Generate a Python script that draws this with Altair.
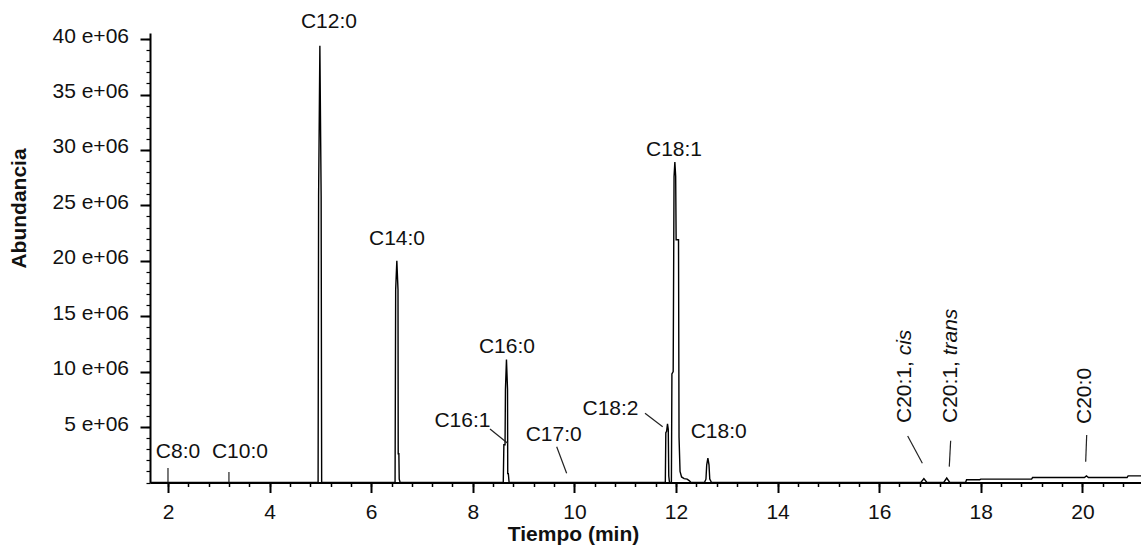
import altair as alt
import pandas as pd

# ---- chromatogram trace (time in min, abundance in millions) ----
trace_time = [
    1.646,
    4.955, 4.965, 4.990, 5.015, 5.025,
    6.470, 6.482, 6.505, 6.528, 6.532, 6.545, 6.552, 6.570,
    8.600, 8.612, 8.635, 8.643, 8.663, 8.684, 8.688, 8.700, 8.715,
    11.790, 11.800, 11.815, 11.833, 11.848, 11.858, 11.872,
    11.910, 11.920, 11.945, 11.962, 11.978, 11.994, 12.003, 12.050, 12.060,
    12.080, 12.110, 12.160, 12.220, 12.265, 12.295,
    12.560, 12.590, 12.605, 12.628, 12.650, 12.665, 12.700,
    16.820, 16.880, 16.940,
    17.270, 17.330, 17.390,
    17.700, 17.720, 17.980, 18.000, 19.000, 19.020, 20.040, 20.080, 20.120,
    20.880, 20.900, 21.154,
]
trace_abund = [
    0.0,
    0.0, 25.8, 39.4, 25.8, 0.0,
    0.0, 17.4, 20.0, 17.4, 2.6, 2.6, 0.3, 0.0,
    0.0, 3.4, 3.4, 8.4, 11.1, 8.4, 0.8, 0.8, 0.0,
    0.0, 4.5, 4.6, 5.3, 4.8, 0.6, 0.0,
    0.0, 9.8, 10.0, 27.6, 28.9, 27.6, 21.9, 21.9, 4.1,
    1.0, 0.5, 0.35, 0.3, 0.15, 0.0,
    0.0, 0.3, 1.6, 2.2, 1.6, 0.3, 0.0,
    0.0, 0.35, 0.0,
    0.0, 0.4, 0.0,
    0.0, 0.25, 0.25, 0.3, 0.3, 0.45, 0.45, 0.6, 0.45,
    0.45, 0.6, 0.6,
]

# ---- peak labels (horizontal) ----
label_text = ["C8:0", "C10:0", "C12:0", "C14:0", "C16:1", "C16:0",
              "C17:0", "C18:2", "C18:1", "C18:0"]
label_time = [2.197, 3.417, 5.169, 6.508, 7.797, 8.673,
              9.593, 10.711, 11.961, 12.841]
label_abund = [2.74, 2.74, 41.57, 22.0, 5.54, 12.26,
               4.27, 6.62, 29.98, 4.55]

# ---- vertical labels (regular part + italic part) ----
vlabel_text = ["C20:1,", "C20:1,", "C20:0"]
vlabel_time = [16.502, 17.420, 20.061]
vlabel_abund = [5.37, 5.37, 5.28]
ilabel_text = ["cis", "trans"]
ilabel_time = [16.502, 17.420]
ilabel_abund = [11.47, 11.47]

# ---- leader lines ----
lead_t1 = [2.0, 3.2, 8.339, 9.652, 11.390, 16.561, 17.407, 20.085]
lead_a1 = [1.3, 0.95, 4.83, 3.23, 6.24, 4.19, 3.77, 4.28]
lead_t2 = [2.0, 3.2, 8.687, 9.848, 11.738, 16.850, 17.380, 20.065]
lead_a2 = [0.0, 0.0, 3.54, 0.83, 5.03, 1.73, 1.43, 1.88]

# ---- axes ----
x_major = [2, 4, 6, 8, 10, 12, 14, 16, 18, 20]
y_major = [5, 10, 15, 20, 25, 30, 35, 40]
x_minor = [round(2.0 + 0.4 * i, 1) for i in range(49)]
y_minor = list(range(0, 41))

FONT = "Liberation Sans"
INK = "#111111"
xs = alt.Scale(domain=[1.646, 21.154], nice=False, zero=False)
ys = alt.Scale(domain=[0, 40.55], nice=False, zero=False)

trace = pd.DataFrame({"t": trace_time, "a": trace_abund})
labels = pd.DataFrame({"t": label_time, "a": label_abund, "txt": label_text})
vlabels = pd.DataFrame({"t": vlabel_time, "a": vlabel_abund, "txt": vlabel_text})
ilabels = pd.DataFrame({"t": ilabel_time, "a": ilabel_abund, "txt": ilabel_text})
leads = pd.DataFrame({"t1": lead_t1, "a1": lead_a1, "t2": lead_t2, "a2": lead_a2})

common_axis = dict(
    grid=False, domainColor="#000", domainWidth=2, tickColor="#000",
    labelFont=FONT, labelFontSize=21, labelColor=INK,
    titleFont=FONT, titleFontSize=21, titleFontWeight="bold", titleColor=INK,
)

line = alt.Chart(trace).mark_line(color="#000", strokeWidth=1.4).encode(
    x=alt.X("t:Q", scale=xs, axis=alt.Axis(
        values=x_major, orient="bottom", title="Tiempo (min)",
        tickSize=10, tickWidth=2, labelPadding=9, format="d",
        titleX=423, titleY=52, titleBaseline="middle", titleAlign="center",
        **common_axis)),
    y=alt.Y("a:Q", scale=ys, axis=alt.Axis(
        values=y_major, orient="left", title="Abundancia",
        tickSize=10, tickWidth=2, labelPadding=11.5, labelOffset=-3,
        labelExpr="datum.value + ' e+06'",
        titleX=-130.5, titleY=175, titleAngle=270, titleBaseline="middle",
        titleAlign="center", **common_axis)),
)

minor = alt.Chart(trace).mark_point(opacity=0).encode(
    x=alt.X("t:Q", scale=xs, axis=alt.Axis(
        values=x_minor, orient="bottom", labels=False, domain=False, grid=False,
        tickSize=4, tickWidth=1.5, tickColor="#000", title="")),
    y=alt.Y("a:Q", scale=ys, axis=alt.Axis(
        values=y_minor, orient="left", labels=False, domain=False, grid=False,
        tickSize=4, tickWidth=1.2, tickColor="#000", title="")),
)

rules = alt.Chart(leads).mark_rule(color="#222", strokeWidth=1.2).encode(
    x=alt.X("t1:Q", scale=xs, axis=None),
    x2="t2:Q",
    y=alt.Y("a1:Q", scale=ys, axis=None),
    y2="a2:Q",
)

text_h = alt.Chart(labels).mark_text(
    font=FONT, fontSize=21, color=INK, align="center", baseline="middle"
).encode(
    x=alt.X("t:Q", scale=xs, axis=None),
    y=alt.Y("a:Q", scale=ys, axis=None),
    text="txt:N",
)

text_v = alt.Chart(vlabels).mark_text(
    font=FONT, fontSize=21, color=INK, align="left", baseline="middle", angle=270
).encode(
    x=alt.X("t:Q", scale=xs, axis=None),
    y=alt.Y("a:Q", scale=ys, axis=None),
    text="txt:N",
)

text_i = alt.Chart(ilabels).mark_text(
    font=FONT, fontSize=21, color=INK, align="left", baseline="middle",
    angle=270, fontStyle="italic"
).encode(
    x=alt.X("t:Q", scale=xs, axis=None),
    y=alt.Y("a:Q", scale=ys, axis=None),
    text="txt:N",
)

chart = alt.layer(line, minor, rules, text_h, text_v, text_i).resolve_axis(
    x="independent", y="independent"
).properties(
    width=991, height=449.5,
    padding={"left": 150, "top": 33, "right": 0, "bottom": 65.5},
    autosize=alt.AutoSizeParams(type="none"),
).configure_view(strokeWidth=0)

chart.save("out.html", embed_options={"renderer": "svg", "actions": False})
